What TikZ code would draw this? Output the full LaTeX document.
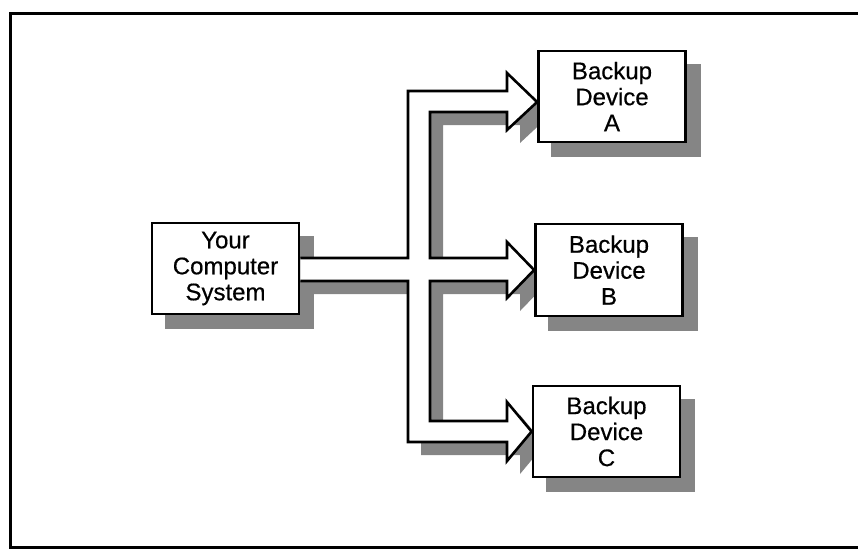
\documentclass[tikz,border=0pt]{standalone}
\usepackage{fontspec}
\setmainfont{Liberation Sans}
\newfontfamily\labelfont[FakeBold=0.5]{Liberation Sans}
\pgfdeclarelayer{shadowlayer}
\pgfdeclarelayer{pipelayer}
\pgfsetlayers{shadowlayer,pipelayer,main}
\begin{document}
\begin{tikzpicture}[x=1pt,y=-1pt,
  box/.style={draw=black, line width=2.8pt, fill=white,
    minimum width=147pt, minimum height=91pt, inner sep=0pt,
    align=center, font=\labelfont\fontsize{24}{26}\selectfont},
  shade/.style={fill=black!48},
  pipe/.style={draw=black, line width=2.6pt, line join=miter},
  frame/.style={draw=black, line width=3pt}]
\useasboundingbox (0,0) rectangle (858,550);

% outer frame (right side runs off the page)
\draw[frame] (870,13) -- (10,13) -- (10,547) -- (870,547);

% boxes
\node[box] (sys) at (225.5,268.5) {Your\\Computer\\System};
\node[box] (a) at (612,96.5) {Backup\\Device\\A};
\node[box, minimum height=92pt] (b) at (609,270) {Backup\\Device\\B};
\node[box] (c) at (606.5,431.5) {Backup\\Device\\C};

% branching arrow outline, from the system box to the three devices
\def\pipeshape{(sys.east |- 0,258) -- (408,258) -- (408,91) -- (507,91)
  -- (507,73) -- (a.west |- 0,102) -- (507,130) -- (507,112) -- (430,112)
  -- (430,258) -- (507,258) -- (507,242) -- (b.west |- 0,270) -- (507,298)
  -- (507,281) -- (430,281) -- (430,421) -- (507,421) -- (507,402)
  -- (c.west |- 0,431.5) -- (507,461) -- (507,442) -- (408,442)
  -- (408,281) -- (sys.east |- 0,281)}

\begin{pgfonlayer}{shadowlayer}
  \foreach \n in {sys,a,b,c}
    \fill[shade] ([shift={(14,14)}]\n.north west) rectangle ([shift={(14,14)}]\n.south east);
  \fill[shade, transform canvas={shift={(13,13)}}] \pipeshape -- cycle;
\end{pgfonlayer}

\begin{pgfonlayer}{pipelayer}
  \fill[white] \pipeshape -- cycle;
  \draw[pipe] \pipeshape;
\end{pgfonlayer}
\end{tikzpicture}
\end{document}
